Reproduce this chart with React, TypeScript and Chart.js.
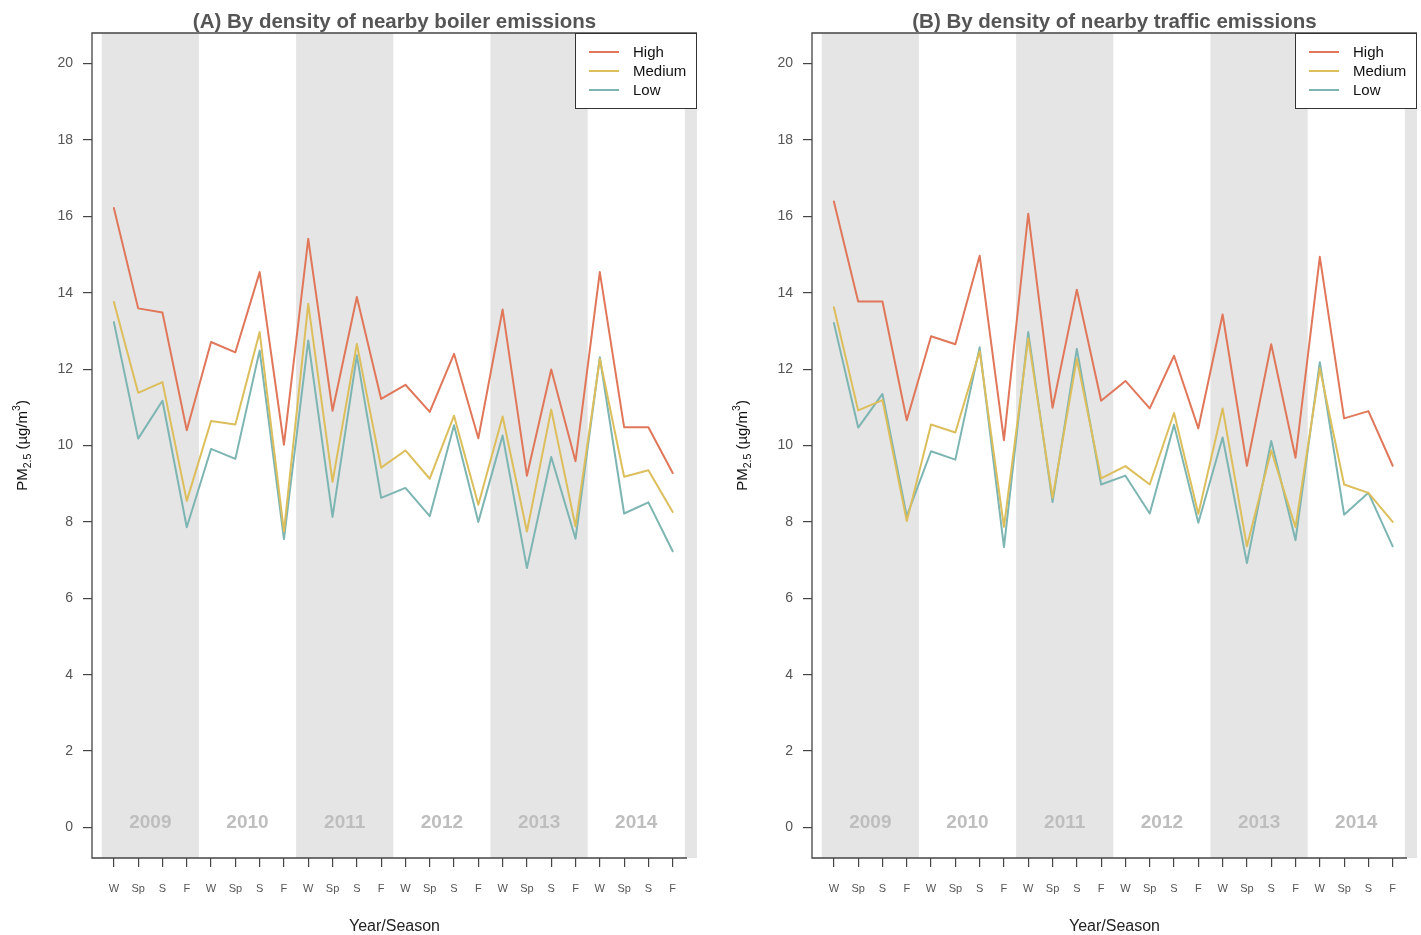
import React, { useEffect, useRef } from "react";
import { Chart, registerables } from "chart.js";

Chart.register(...registerables);

// ---------- data ----------
const seasonLabels = [
  "W", "Sp", "S", "F", "W", "Sp", "S", "F", "W", "Sp", "S", "F",
  "W", "Sp", "S", "F", "W", "Sp", "S", "F", "W", "Sp", "S", "F",
];
const yearLabels = ["2009", "2010", "2011", "2012", "2013", "2014"];
const yTicks = [0, 2, 4, 6, 8, 10, 12, 14, 16, 18, 20];
const seriesNames = ["High", "Medium", "Low"];

const boilerHigh = [
  16.22, 13.59, 13.48, 10.40, 12.71, 12.44, 14.54, 10.02, 15.41, 10.91, 13.89, 11.22,
  11.59, 10.88, 12.40, 10.19, 13.56, 9.21, 11.99, 9.59, 14.54, 10.48, 10.48, 9.28,
];
const boilerMedium = [
  13.76, 11.38, 11.66, 8.55, 10.64, 10.55, 12.97, 7.75, 13.71, 9.05, 12.66, 9.42,
  9.87, 9.13, 10.78, 8.45, 10.76, 7.75, 10.94, 7.88, 12.27, 9.18, 9.35, 8.26,
];
const boilerLow = [
  13.23, 10.18, 11.17, 7.86, 9.91, 9.65, 12.49, 7.55, 12.75, 8.13, 12.36, 8.63,
  8.89, 8.15, 10.53, 8.00, 10.26, 6.79, 9.70, 7.56, 12.31, 8.22, 8.51, 7.23,
];

const trafficHigh = [
  16.39, 13.77, 13.77, 10.66, 12.86, 12.65, 14.97, 10.14, 16.07, 10.99, 14.08, 11.17,
  11.69, 10.97, 12.35, 10.45, 13.43, 9.47, 12.65, 9.68, 14.94, 10.71, 10.90, 9.47,
];
const trafficMedium = [
  13.62, 10.92, 11.19, 8.02, 10.55, 10.34, 12.47, 7.87, 12.81, 8.63, 12.27, 9.14,
  9.46, 8.98, 10.85, 8.21, 10.97, 7.36, 9.87, 7.86, 12.02, 8.98, 8.76, 8.00,
];
const trafficLow = [
  13.21, 10.47, 11.35, 8.15, 9.85, 9.63, 12.57, 7.34, 12.97, 8.52, 12.53, 8.98,
  9.21, 8.22, 10.54, 7.98, 10.21, 6.92, 10.12, 7.52, 12.18, 8.19, 8.76, 7.36,
];

const seriesColors = ["#E0775A", "#DCBE5C", "#7DB5B2"];

const FONT = "'Liberation Sans', Arial, Helvetica, sans-serif";

// ---------- decoration plugin ----------
const decorPlugin = {
  id: "decor",
  beforeDatasetsDraw(chart: any) {
    const { ctx, chartArea: a, scales } = chart;
    const x = scales.x;
    const y = scales.y;
    ctx.save();
    ctx.beginPath();
    ctx.rect(a.left, a.top, a.right - a.left, a.bottom - a.top);
    ctx.clip();
    ctx.fillStyle = "#E5E5E5";
    for (let k = 0; k < 4; k++) {
      const x0 = x.getPixelForValue(0.5 + 8 * k);
      const x1 = x.getPixelForValue(4.5 + 8 * k);
      ctx.fillRect(x0, a.top, x1 - x0, a.bottom - a.top);
    }
    ctx.fillStyle = "#BEBEBE";
    ctx.font = `bold 19px ${FONT}`;
    ctx.textAlign = "center";
    ctx.textBaseline = "middle";
    yearLabels.forEach((yr, i) => {
      ctx.fillText(yr, x.getPixelForValue(2.5 + 4 * i), y.getPixelForValue(0.12));
    });
    ctx.restore();

    // axis box lines (left, bottom, top)
    ctx.save();
    ctx.strokeStyle = "#444";
    ctx.lineWidth = 1.3;
    ctx.beginPath();
    ctx.moveTo(a.right, a.top);
    ctx.lineTo(a.left, a.top);
    ctx.lineTo(a.left, a.bottom);
    ctx.lineTo(a.right - 10, a.bottom);
    ctx.stroke();
    ctx.restore();
  },
  afterDraw(chart: any, _args: any, opts: any) {
    const { ctx, chartArea: a } = chart;
    ctx.save();
    // title
    ctx.fillStyle = "#555";
    ctx.font = `bold 20.5px ${FONT}`;
    ctx.textAlign = "center";
    ctx.textBaseline = "middle";
    ctx.fillText(opts.title, (a.left + a.right) / 2, 22);

    // x title
    ctx.fillStyle = "#222";
    ctx.font = `16px ${FONT}`;
    ctx.fillText("Year/Season", (a.left + a.right) / 2, 927);

    // y title with sub/superscript
    ctx.save();
    ctx.translate(22, (a.top + a.bottom) / 2);
    ctx.rotate(-Math.PI / 2);
    ctx.fillStyle = "#111";
    ctx.textAlign = "left";
    ctx.textBaseline = "alphabetic";
    const parts: [string, number, number][] = [
      ["PM", 15, 0],
      ["2.5", 10.5, 4],
      [" (\u00B5g/m", 15, 0],
      ["3", 10.5, -7],
      [")", 15, 0],
    ];
    let total = 0;
    parts.forEach(([t, s]) => {
      ctx.font = `${s}px ${FONT}`;
      total += ctx.measureText(t).width;
    });
    let cx = -total / 2;
    parts.forEach(([t, s, dy]) => {
      ctx.font = `${s}px ${FONT}`;
      ctx.fillText(t, cx, 5 + dy);
      cx += ctx.measureText(t).width;
    });
    ctx.restore();

    // legend
    const lw = 122;
    const lh = 76;
    const lx = a.right - lw;
    const ly = a.top;
    ctx.fillStyle = "#fff";
    ctx.fillRect(lx, ly, lw, lh);
    ctx.strokeStyle = "#333";
    ctx.lineWidth = 1;
    ctx.strokeRect(lx + 0.5, ly + 0.5, lw - 1, lh - 1);
    ctx.font = `15px ${FONT}`;
    ctx.textAlign = "left";
    ctx.textBaseline = "middle";
    chart.data.datasets.forEach((ds: any, i: number) => {
      const yy = ly + 19 + i * 19;
      ctx.strokeStyle = ds.borderColor;
      ctx.lineWidth = 2;
      ctx.beginPath();
      ctx.moveTo(lx + 14, yy);
      ctx.lineTo(lx + 44, yy);
      ctx.stroke();
      ctx.fillStyle = "#111";
      ctx.fillText(ds.label, lx + 58, yy + 1);
    });
    ctx.restore();
  },
};

type PanelProps = {
  title: string;
  high: number[];
  medium: number[];
  low: number[];
  left: number;
  width: number;
  rightPad: number;
};

function Panel({ title, high, medium, low, left, width, rightPad }: PanelProps) {
  const ref = useRef<HTMLCanvasElement | null>(null);
  useEffect(() => {
    if (!ref.current) return;
    const values = [high, medium, low];
    const chart = new Chart(ref.current, {
      type: "line",
      data: {
        datasets: seriesNames.map((name, i) => ({
          label: name,
          data: values[i].map((v, j) => ({ x: j + 1, y: v })),
          borderColor: seriesColors[i],
          backgroundColor: seriesColors[i],
          borderWidth: 2,
          borderJoinStyle: "round",
          borderCapStyle: "round",
          pointRadius: 0,
          tension: 0,
          fill: false,
        })),
      },
      options: {
        responsive: false,
        animation: false,
        events: [],
        layout: { padding: { left: 0, right: rightPad, top: 33, bottom: 0 } },
        plugins: {
          legend: { display: false },
          tooltip: { enabled: false },
          title: { display: false },
          decor: { title },
        } as any,
        scales: {
          x: {
            type: "linear",
            min: 0.1,
            max: 25,
            afterBuildTicks: (s: any) => {
              s.ticks = seasonLabels.map((_, i) => ({ value: i + 1 }));
            },
            afterFit: (s: any) => {
              s.height = 77;
            },
            ticks: {
              autoSkip: false,
              maxRotation: 0,
              padding: 15,
              color: "#555",
              font: { family: FONT, size: 11 },
              callback: (v: any) => seasonLabels[Math.round(Number(v)) - 1] ?? "",
            },
            grid: {
              drawOnChartArea: false,
              drawTicks: true,
              tickLength: 9,
              color: "#444",
              lineWidth: 1.2,
            },
            border: { display: false },
          },
          y: {
            type: "linear",
            min: -0.8,
            max: 20.8,
            afterBuildTicks: (s: any) => {
              s.ticks = yTicks.map((v) => ({ value: v }));
            },
            afterFit: (s: any) => {
              s.width = 92;
            },
            ticks: {
              padding: 10,
              color: "#555",
              font: { family: FONT, size: 14 },
              callback: (v: any) => String(v),
            },
            grid: {
              drawOnChartArea: false,
              drawTicks: true,
              tickLength: 9,
              color: "#444",
              lineWidth: 1.2,
            },
            border: { display: false },
          },
        },
      },
      plugins: [decorPlugin as any],
    });
    return () => chart.destroy();
  }, [title, high, medium, low, rightPad]);

  return (
    <canvas
      ref={ref}
      width={width}
      height={935}
      style={{ position: "absolute", left, top: 0, width, height: 935 }}
    />
  );
}

export default function App() {
  return (
    <div
      style={{
        position: "fixed",
        left: 0,
        top: 0,
        width: 1421,
        height: 935,
        background: "#fff",
        overflow: "hidden",
      }}
    >
      <Panel
        title="(A) By density of nearby boiler emissions"
        high={boilerHigh}
        medium={boilerMedium}
        low={boilerLow}
        left={0}
        width={710}
        rightPad={13}
      />
      <Panel
        title="(B) By density of nearby traffic emissions"
        high={trafficHigh}
        medium={trafficMedium}
        low={trafficLow}
        left={720}
        width={701}
        rightPad={4}
      />
    </div>
  );
}
